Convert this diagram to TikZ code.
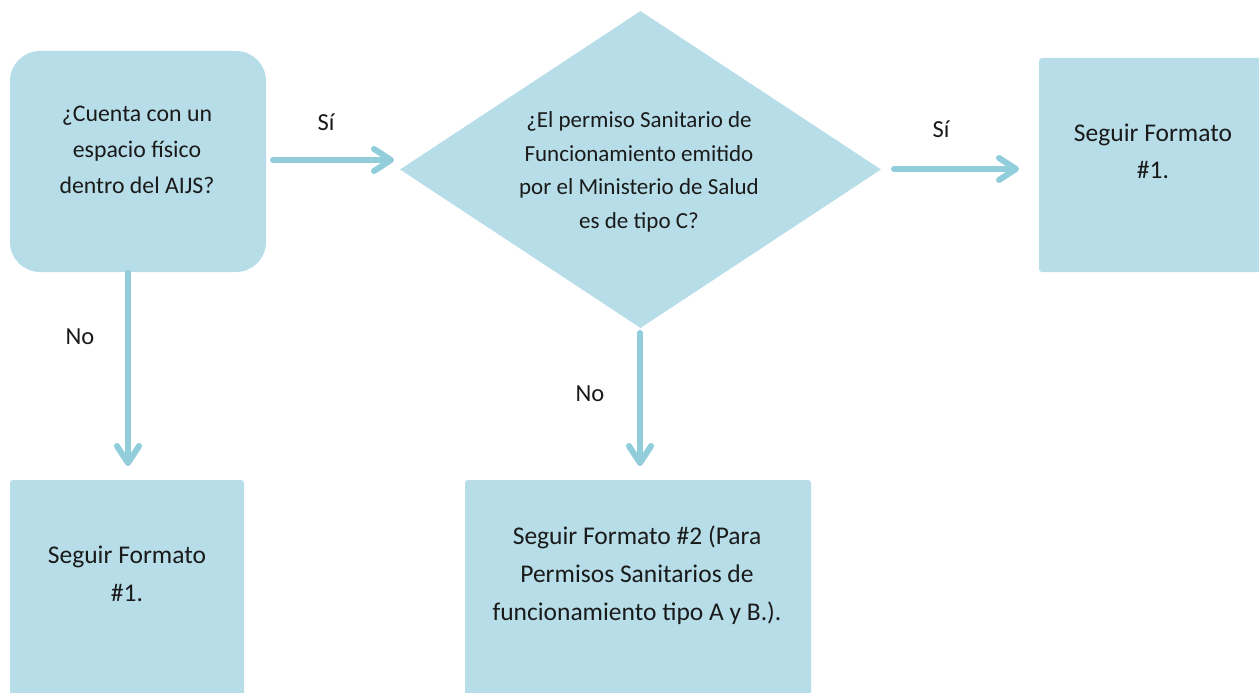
\documentclass[tikz,border=0pt]{standalone}
\usepackage{fontspec}
\setmainfont{Carlito}
\usetikzlibrary{shapes.geometric,arrows.meta}
\definecolor{boxfill}{HTML}{B7DEE8}
\definecolor{arrowc}{HTML}{92CDDC}
\definecolor{txt}{HTML}{1A1A1A}
\tikzset{
  shapebox/.style={fill=boxfill,draw=none,inner sep=0pt,rounded corners=3pt},
  lbl/.style={text=txt,font=\fontsize{24.5}{28}\selectfont,inner sep=0pt},
  boxtext/.style={text=txt,align=center,inner sep=0pt},
  flow/.style={draw=arrowc,line width=6pt,line cap=round,
    -{Straight Barb[round,length=17pt,width=22pt]}},
}
\begin{document}
\begin{tikzpicture}[x=1pt,y=-1pt]
\clip (0,0) rectangle (1259,693);
\fill[white] (0,0) rectangle (1259,693);
% shapes
\node[shapebox,rounded corners=30pt,minimum width=256pt,minimum height=221pt] (q1) at (138,161.5) {};
\node[shapebox,diamond,sharp corners,minimum width=481pt,minimum height=317pt] (q2) at (640.5,169.5) {};
\node[shapebox,minimum width=250pt,minimum height=214pt] (r1) at (1164,165) {};
\node[shapebox,minimum width=234pt,minimum height=240pt] (r2) at (127,600) {};
\node[shapebox,minimum width=346pt,minimum height=240pt] (r3) at (638,600) {};
% texts
\node[boxtext,font=\fontsize{23.8}{36}\selectfont] (t1) at (137,150) {¿Cuenta con un\\espacio físico\\dentro del AIJS?};
\node[boxtext,font=\fontsize{23}{33.5}\selectfont] (t2) at (639,172) {¿El permiso Sanitario de\\Funcionamiento emitido\\por el Ministerio de Salud\\es de tipo C?};
\node[boxtext,font=\fontsize{25.5}{37}\selectfont] (t3) at (1153,151) {Seguir Formato\\\#1.};
\node[boxtext,font=\fontsize{25.5}{38}\selectfont] (t4) at (127,574) {Seguir Formato\\\#1.};
\node[boxtext,font=\fontsize{25.5}{38}\selectfont] (t5) at (637,575) {Seguir Formato \#2 (Para\\Permisos Sanitarios de\\funcionamiento tipo A y B.).};
% connectors
\coordinate (s1) at (273,160);
\coordinate (e1) at (394,160);
\coordinate (s2) at (894,169);
\coordinate (e2) at (1019,169);
\coordinate (n1) at (128,273);
\coordinate (m1) at (128,466);
\coordinate (n2) at (640,333);
\coordinate (m2) at (640,466);
\draw[flow] (s1) -- (e1);
\draw[flow] (s2) -- (e2);
\draw[flow] (n1) -- (m1);
\draw[flow] (n2) -- (m2);
% labels
\node[lbl] (l1) at (326,122) {Sí};
\node[lbl] (l2) at (941,129) {Sí};
\node[lbl] (l3) at (80,337) {No};
\node[lbl] (l4) at (590,394) {No};
\end{tikzpicture}
\end{document}
